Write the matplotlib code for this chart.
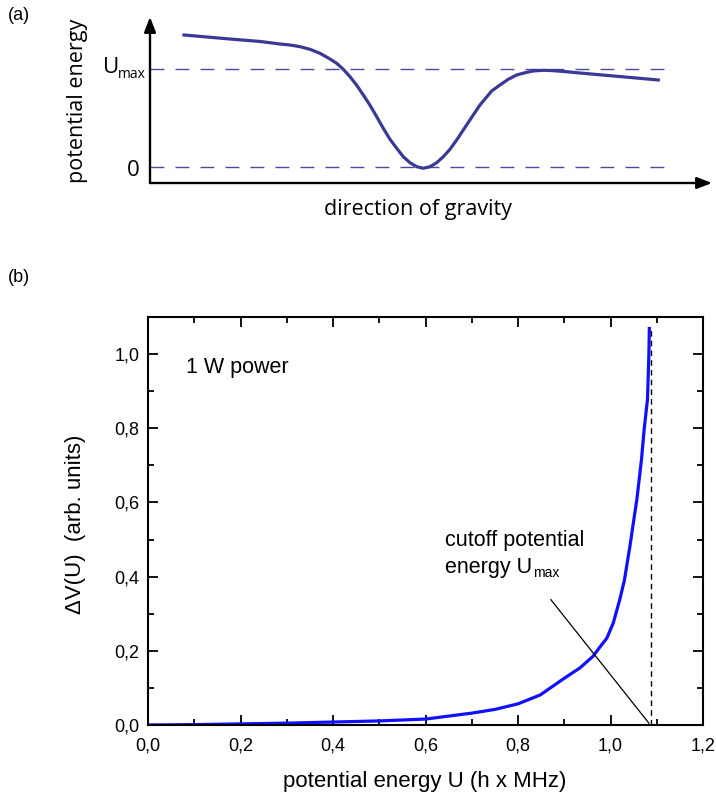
import matplotlib
matplotlib.use("Agg")
import matplotlib.pyplot as plt

# panel (a): schematic potential (x in axis units, y in units of Umax)
pot_x = [0.0605, 0.1423, 0.1957, 0.2313, 0.2491, 0.2669, 0.2847, 0.3025, 0.3203,
         0.3322, 0.3440, 0.3559, 0.3678, 0.3795, 0.3915, 0.4034, 0.4151, 0.4270,
         0.4390, 0.4507, 0.4626, 0.4746, 0.4863, 0.4982, 0.5101, 0.5219, 0.5338,
         0.5457, 0.5575, 0.5724, 0.5872, 0.6080, 0.6228, 0.6375, 0.6525, 0.6673,
         0.6820, 0.6998, 0.7176, 0.7415, 0.7593, 0.8185, 0.9044]
pot_y = [1.347, 1.306, 1.281, 1.255, 1.245, 1.228, 1.201, 1.160, 1.102,
         1.058, 0.997, 0.921, 0.834, 0.735, 0.630, 0.513, 0.395, 0.283,
         0.191, 0.105, 0.044, 0.003, -0.013, 0.003, 0.044, 0.105, 0.181,
         0.276, 0.378, 0.507, 0.633, 0.776, 0.837, 0.895, 0.939, 0.962,
         0.980, 0.987, 0.983, 0.972, 0.962, 0.932, 0.888]

# panel (b): measured distribution
U = [0.00, 0.10, 0.20, 0.30, 0.40, 0.50, 0.60, 0.70, 0.75, 0.80, 0.848, 0.90,
     0.934, 0.962, 0.977, 0.992, 1.006, 1.020, 1.030, 1.042, 1.050, 1.057,
     1.067, 1.073, 1.080, 1.083, 1.084]
dV = [0.000, 0.001, 0.003, 0.005, 0.008, 0.011, 0.016, 0.032, 0.042, 0.057, 0.081, 0.126,
      0.154, 0.185, 0.210, 0.234, 0.275, 0.338, 0.390, 0.482, 0.550, 0.608,
      0.716, 0.800, 0.878, 1.000, 1.069]
U_cut = 1.087

xticks = [0.0, 0.2, 0.4, 0.6, 0.8, 1.0, 1.2]
xlabels = ["0,0", "0,2", "0,4", "0,6", "0,8", "1,0", "1,2"]
yticks = [0.0, 0.2, 0.4, 0.6, 0.8, 1.0]
ylabels = ["0,0", "0,2", "0,4", "0,6", "0,8", "1,0"]

W, H = 716, 795
fig = plt.figure(figsize=(W / 100, H / 100), dpi=100)

def px(x, y):
    return x / W, 1 - y / H

sans_a = "Open Sans"
sans_b = "Liberation Sans"

# ---------- (a) ----------
axa = fig.add_axes([150 / W, 1 - 183 / H, (712 - 150) / W, (183 - 17) / H])
axa.set_xlim(0, 1)
axa.set_ylim(-16 / 98, 150 / 98)
axa.axis("off")
dash_c = "#4a4aa0"
axa.plot([0, (667 - 150) / 562], [1, 1], color=dash_c, lw=1, dashes=(10, 8))
axa.plot([0, (667 - 150) / 562], [0, 0], color=dash_c, lw=1, dashes=(10, 8))
axa.plot(pot_x, pot_y, color="#3a3a96", lw=2.3, solid_joinstyle="round")
arrow = dict(arrowstyle="-|>,head_length=0.9,head_width=0.35", color="black", lw=1.7,
             shrinkA=0, shrinkB=0)
axa.annotate("", xy=(0, 1), xytext=(0, 0), xycoords="axes fraction", arrowprops=arrow)
axa.annotate("", xy=(1, 0), xytext=(0, 0), xycoords="axes fraction", arrowprops=arrow)

fig.text(*px(19, 15), "(a)", family=sans_b, fontsize=13, ha="center", va="center")
fig.text(*px(77, 101), "potential energy", family=sans_a, fontsize=15.5, rotation=90,
         ha="center", va="center")
tu = fig.text(*px(103, 73), "U", family=sans_a, fontsize=16, ha="left", va="baseline")
fig.text(*px(118, 78), "max", family=sans_a, fontsize=10, ha="left", va="baseline")
fig.text(*px(133, 171), "0", family=sans_a, fontsize=16, ha="center", va="center")
fig.text(*px(418, 210), "direction of gravity", family=sans_a, fontsize=15.5,
         ha="center", va="center")

# ---------- (b) ----------
axb = fig.add_axes([148 / W, 1 - 725 / H, (703 - 148) / W, (725 - 317) / H])
axb.set_xlim(0, 1.2)
axb.set_ylim(0, 1.1)
axb.plot(U, dV, color="#1010ff", lw=2.3, solid_joinstyle="round")
axb.plot([U_cut, U_cut], [0, dV[-1]], color="black", lw=1, dashes=(4, 3))
axb.plot([0.871, 1.083], [0.338, 0.005], color="black", lw=0.9)

axb.set_xticks(xticks)
axb.set_xticklabels(xlabels)
axb.set_yticks(yticks)
axb.set_yticklabels(ylabels)
axb.set_xticks([0.1, 0.3, 0.5, 0.7, 0.9, 1.1], minor=True)
axb.set_yticks([0.1, 0.3, 0.5, 0.7, 0.9], minor=True)
axb.tick_params(which="both", direction="in", top=True, right=True, width=1.3)
axb.tick_params(which="major", length=7, labelsize=13)
axb.tick_params(which="minor", length=4)
axb.tick_params(axis="x", pad=9)
axb.tick_params(axis="y", pad=6)
for lab in axb.get_xticklabels() + axb.get_yticklabels():
    lab.set_family(sans_b)
for sp in axb.spines.values():
    sp.set_linewidth(1.5)

axb.text(0.082, 0.965, "1 W power", family=sans_b, fontsize=15.5, va="center")
axb.text(0.642, 0.482, "cutoff potential", family=sans_b, fontsize=15.5, va="baseline")
te = axb.text(0.642, 0.411, "energy U", family=sans_b, fontsize=15.5, va="baseline")
axb.annotate("max", xy=(1, 0), xycoords=te, xytext=(0.5, -2), textcoords="offset points",
             family=sans_b, fontsize=10, ha="left", va="bottom")

fig.text(*px(19, 278), "(b)", family=sans_b, fontsize=13, ha="center", va="center")
fig.text(*px(75, 524), "\u0394V(U)  (arb. units)", family=sans_b, fontsize=16,
         rotation=90, ha="center", va="center")
fig.text(*px(425, 782), "potential energy U (h x MHz)", family=sans_b, fontsize=16,
         ha="center", va="center")

fig.savefig("out.png", dpi=100)
